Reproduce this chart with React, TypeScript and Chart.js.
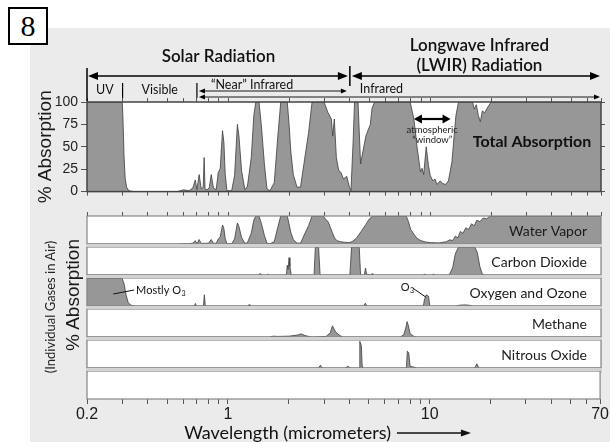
import React, { useEffect, useRef } from 'react';
import { Chart, registerables } from 'chart.js';

Chart.register(...registerables);

// ---------- axis data ----------
const X_MIN = 0.2;
const X_MAX = 70;
const xTicks = [0.2, 0.3, 0.4, 0.5, 0.6, 0.7, 0.8, 0.9, 1, 2, 3, 4, 5, 6, 7, 8, 9, 10, 20, 30, 40, 50, 60, 70];
const xLabeled = [0.2, 1, 10, 70];
const yTicks = [0, 25, 50, 75, 100];

// band boundaries (micrometers)
const UV_EDGE = 0.3;
const VIS_EDGE = 0.7;
const SOLAR_EDGE = 4;
const WINDOW_BAND = [8.3, 12.6];
const O3_PEAK = 9.6;
const O3_UV_LABEL = 0.35;
const O3_UV_POINTER = 0.27;

// ---------- series: [wavelength µm, % absorption] ----------
const totalAbsorption: [number, number][] = [
  [0.2, 100], [0.299, 100], [0.302, 75], [0.305, 40], [0.309, 15], [0.314, 5], [0.322, 1], [0.34, 0],
  [0.56, 0], [0.6, 2], [0.64, 1], [0.668, 4], [0.687, 13], [0.7, 2], [0.718, 19], [0.735, 3],
  [0.752, 5], [0.76, 38], [0.768, 3], [0.785, 2], [0.805, 4], [0.824, 19], [0.845, 4], [0.872, 2],
  [0.892, 21], [0.913, 26], [0.937, 68], [0.952, 55], [0.966, 20], [0.985, 1], [1.04, 1], [1.075, 18],
  [1.11, 75], [1.13, 62], [1.165, 23], [1.21, 2], [1.245, 6], [1.3, 38], [1.34, 86], [1.37, 100],
  [1.42, 100], [1.46, 73], [1.51, 31], [1.555, 3], [1.61, 1], [1.69, 10], [1.76, 62], [1.82, 100],
  [1.96, 100], [2.0, 76], [2.04, 45], [2.1, 19], [2.19, 5], [2.28, 5], [2.37, 31], [2.5, 66],
  [2.6, 100], [2.98, 100], [3.12, 88], [3.24, 81], [3.29, 62], [3.35, 81], [3.43, 38], [3.52, 24],
  [3.62, 21], [3.72, 14], [3.86, 17], [3.97, 6], [4.05, 1], [4.15, 55], [4.22, 100], [4.39, 100],
  [4.52, 31], [4.8, 62], [5.05, 75], [5.15, 93], [5.3, 100], [7.95, 100], [8.3, 81], [8.6, 50],
  [8.94, 22], [9.1, 26], [9.28, 19], [9.55, 50], [9.8, 29], [10.0, 18], [10.3, 12], [10.55, 14],
  [10.8, 8], [11.2, 12], [11.5, 9], [11.9, 8], [12.3, 12], [12.8, 33], [13.1, 60], [13.4, 85],
  [13.8, 100], [16.2, 100], [16.5, 92], [16.9, 97], [17.3, 85], [17.7, 78], [18.1, 90], [18.6, 88],
  [19.0, 92], [20.0, 100], [70, 100],
];

const waterVapor: [number, number][] = [
  [0.2, 0], [0.56, 0], [0.6, 1], [0.64, 1], [0.668, 3], [0.687, 12], [0.7, 1], [0.718, 16], [0.735, 2],
  [0.8, 3], [0.824, 16], [0.845, 3], [0.872, 2], [0.892, 18], [0.913, 25], [0.937, 68], [0.952, 55],
  [0.966, 20], [0.985, 1], [1.04, 1], [1.075, 18], [1.11, 75], [1.13, 62], [1.165, 23], [1.21, 2],
  [1.245, 5], [1.3, 38], [1.34, 86], [1.37, 100], [1.42, 100], [1.46, 73], [1.51, 31], [1.555, 3],
  [1.61, 1], [1.69, 8], [1.76, 60], [1.82, 100], [1.96, 100], [2.0, 72], [2.04, 42], [2.1, 16],
  [2.19, 3], [2.28, 3], [2.37, 30], [2.5, 66], [2.6, 100], [2.95, 100], [3.05, 86], [3.12, 80],
  [3.2, 60], [3.28, 40], [3.36, 22], [3.45, 12], [3.6, 8], [3.8, 6], [3.95, 5], [4.1, 8], [4.3, 20],
  [4.55, 45], [4.8, 70], [5.0, 90], [5.2, 100], [7.6, 100], [7.8, 80], [8.0, 52], [8.3, 35], [8.6, 20],
  [9.0, 12], [9.5, 7], [10.0, 5], [11.0, 4], [12.0, 8], [12.5, 15], [12.9, 12], [13.3, 28], [13.7, 22],
  [14.1, 45], [14.5, 38], [15.0, 58], [15.5, 52], [16.0, 72], [16.5, 65], [17.0, 85], [17.6, 80],
  [18.3, 93], [19.0, 90], [19.8, 100], [70, 100],
];

const carbonDioxide: [number, number][] = [
  [0.2, 0], [1.42, 0], [1.44, 6], [1.46, 0], [1.56, 0], [1.58, 4], [1.6, 0], [1.94, 0], [1.96, 35],
  [1.98, 20], [2.0, 62], [2.02, 30], [2.05, 0], [2.66, 0], [2.7, 100], [2.8, 100], [2.85, 0], [4.0, 0],
  [4.08, 100], [4.45, 100], [4.52, 0], [4.72, 0], [4.78, 25], [4.84, 3], [5.1, 0], [5.15, 5], [5.2, 0],
  [9.2, 0], [9.4, 3], [9.6, 0], [10.2, 0], [10.4, 3], [10.6, 0], [12.4, 0], [12.9, 25], [13.3, 75],
  [13.8, 100], [16.6, 100], [17.1, 80], [17.6, 30], [18.1, 3], [18.6, 0], [70, 0],
];

const oxygenOzone: [number, number][] = [
  [0.2, 100], [0.298, 100], [0.305, 80], [0.312, 40], [0.32, 12], [0.33, 3], [0.345, 0], [0.68, 0],
  [0.688, 9], [0.696, 0], [0.754, 0], [0.762, 40], [0.77, 0], [1.255, 0], [1.268, 5], [1.28, 0],
  [4.68, 0], [4.77, 10], [4.86, 0], [9.25, 0], [9.35, 22], [9.55, 40], [9.8, 35], [9.95, 0],
  [13.3, 0], [14.0, 3], [15.0, 4], [15.8, 2], [16.3, 0], [70, 0],
];

const methane: [number, number][] = [
  [0.2, 0], [1.6, 0], [1.67, 3], [1.75, 2], [2.0, 3], [2.2, 7], [2.3, 11], [2.38, 6], [2.5, 2], [2.6, 0],
  [3.05, 2], [3.2, 15], [3.28, 40], [3.32, 32], [3.4, 18], [3.55, 6], [3.7, 0], [7.1, 0], [7.4, 8],
  [7.6, 38], [7.68, 55], [7.78, 42], [7.95, 12], [8.3, 2], [8.5, 0], [70, 0],
];

const nitrousOxide: [number, number][] = [
  [0.2, 0], [2.8, 0], [2.86, 10], [2.92, 0], [3.82, 0], [3.9, 7], [3.98, 2], [4.05, 0], [4.45, 0],
  [4.48, 95], [4.56, 80], [4.6, 10], [4.65, 0], [7.62, 0], [7.7, 60], [7.82, 55], [7.95, 6], [8.3, 3],
  [8.6, 0], [16.6, 0], [17.0, 15], [17.4, 0], [70, 0],
];

const gasNames = ['Water Vapor', 'Carbon Dioxide', 'Oxygen and Ozone', 'Methane', 'Nitrous Oxide', ''];
const gasSeries: [number, number][][] = [waterVapor, carbonDioxide, oxygenOzone, methane, nitrousOxide, []];

// ---------- styles ----------
const FILL = '#979797';
const EDGE = '#3c3c3c';
const TICK_COLOR = '#555';
const LABEL_FONT = 'Lato, "Open Sans", sans-serif';
const NUM_FONT = '"Liberation Sans", Arial, sans-serif';

const toPoints = (s: [number, number][]) => s.map(([x, y]) => ({ x, y }));

const dataset = (s: [number, number][]) => ({
  data: toPoints(s),
  fill: 'origin',
  backgroundColor: FILL,
  borderColor: EDGE,
  borderWidth: 0.8,
  pointRadius: 0,
  tension: 0,
});

const xScale = (position: string, labeled: boolean) => ({
  type: 'logarithmic',
  position,
  min: X_MIN,
  max: X_MAX,
  afterBuildTicks: (s: any) => {
    s.ticks = xTicks.map((v) => ({ value: v }));
  },
  ticks: labeled
    ? {
        display: true,
        autoSkip: false,
        maxRotation: 0,
        minRotation: 0,
        padding: 1,
        font: { family: NUM_FONT, size: 16 },
        color: '#1a1a1a',
        callback: (v: any) => (xLabeled.includes(Number(v)) ? String(v) : ''),
      }
    : { display: false },
  grid: { drawOnChartArea: false, drawTicks: true, tickLength: labeled ? 5 : 4, color: TICK_COLOR },
  border: { display: false },
  afterFit: (s: any) => {
    s.height = labeled ? 43 : 5;
  },
});

function arrowHead(ctx: CanvasRenderingContext2D, x: number, y: number, dir: number, len: number, half: number) {
  ctx.beginPath();
  ctx.moveTo(x, y);
  ctx.lineTo(x - dir * len, y - half);
  ctx.lineTo(x - dir * len, y + half);
  ctx.closePath();
  ctx.fill();
}

function hArrow(ctx: CanvasRenderingContext2D, x1: number, x2: number, y: number, len: number, half: number, lw: number, both = true) {
  ctx.lineWidth = lw;
  ctx.beginPath();
  ctx.moveTo(x1 + (both ? len * 0.5 : 0), y);
  ctx.lineTo(x2 - len * 0.5, y);
  ctx.stroke();
  arrowHead(ctx, x2, y, 1, len, half);
  if (both) arrowHead(ctx, x1, y, -1, len, half);
}

function vLine(ctx: CanvasRenderingContext2D, x: number, y1: number, y2: number, lw: number) {
  ctx.lineWidth = lw;
  ctx.beginPath();
  ctx.moveTo(x, y1);
  ctx.lineTo(x, y2);
  ctx.stroke();
}

function subText(ctx: CanvasRenderingContext2D, base: string, sub: string, x: number, y: number, size: number) {
  ctx.font = `${size}px ${LABEL_FONT}`;
  ctx.textAlign = 'left';
  ctx.textBaseline = 'middle';
  ctx.fillText(base, x, y);
  const w = ctx.measureText(base).width;
  ctx.font = `${size * 0.65}px ${LABEL_FONT}`;
  ctx.fillText(sub, x + w + 0.5, y + size * 0.3);
}

const frame = (color: string, lw: number) => ({
  id: 'frame',
  beforeDatasetsDraw(chart: any) {
    const { ctx, chartArea: a } = chart;
    ctx.save();
    ctx.fillStyle = '#fff';
    ctx.fillRect(a.left, a.top, a.width, a.height);
    ctx.restore();
  },
  afterDatasetsDraw(chart: any) {
    const { ctx, chartArea: a } = chart;
    ctx.save();
    ctx.strokeStyle = color;
    ctx.lineWidth = lw;
    ctx.strokeRect(a.left, a.top, a.width, a.height);
    ctx.restore();
  },
});

const gasLabel = (name: string) => ({
  id: 'gasLabel',
  afterDraw(chart: any) {
    if (!name) return;
    const { ctx, chartArea: a } = chart;
    ctx.save();
    ctx.font = `14px ${LABEL_FONT}`;
    ctx.fillStyle = '#1a1a1a';
    ctx.textAlign = 'right';
    ctx.textBaseline = 'middle';
    ctx.fillText(name, a.right - 14, a.top + a.height / 2 + 1);
    ctx.restore();
  },
});

const ozoneNotes = {
  id: 'ozoneNotes',
  afterDraw(chart: any) {
    const { ctx, chartArea: a, scales } = chart;
    const px = (v: number) => scales.x.getPixelForValue(v);
    ctx.save();
    ctx.fillStyle = '#111';
    ctx.strokeStyle = '#111';
    const tx = px(O3_UV_LABEL);
    subText(ctx, 'Mostly O', '3', tx, a.top + 12, 11);
    ctx.lineWidth = 1;
    ctx.beginPath();
    ctx.moveTo(px(O3_UV_POINTER), a.top + 16);
    ctx.lineTo(tx - 2, a.top + 12);
    ctx.stroke();
    const ox = px(O3_PEAK);
    subText(ctx, 'O', '3', ox - 26, a.top + 9, 11);
    ctx.beginPath();
    ctx.moveTo(ox - 14, a.top + 10);
    ctx.lineTo(ox - 1, a.top + 19);
    ctx.stroke();
    ctx.restore();
  },
};

const topNotes = {
  id: 'topNotes',
  afterDraw(chart: any) {
    const { ctx, chartArea: a, scales } = chart;
    const px = (v: number) => scales.x.getPixelForValue(v);
    const t = a.top;
    const xL = a.left;
    const xR = a.right;
    const xM = px(SOLAR_EDGE);
    const xUV = px(UV_EDGE);
    const xVis = px(VIS_EDGE);
    ctx.save();
    ctx.strokeStyle = '#000';
    ctx.fillStyle = '#000';

    // headings
    ctx.textAlign = 'center';
    ctx.textBaseline = 'middle';
    ctx.font = `600 17px ${LABEL_FONT}`;
    ctx.fillStyle = '#111';
    ctx.fillText('Solar Radiation', (xL + xM) / 2, t - 45);
    ctx.fillText('Longwave Infrared', (xM + xR) / 2 + 4, t - 56);
    ctx.fillText('(LWIR) Radiation', (xM + xR) / 2 + 4, t - 36);
    ctx.fillStyle = '#000';

    // row 1 arrows
    vLine(ctx, xL, t - 34, t - 1, 1.5);
    vLine(ctx, xM, t - 36, t - 16, 1.5);
    hArrow(ctx, xL + 1, xM - 2, t - 26, 10, 4, 1.4);
    hArrow(ctx, xM + 2, xR - 1, t - 26, 10, 4, 1.4);

    // row 2
    ctx.font = `12.5px ${LABEL_FONT}`;
    ctx.fillStyle = '#111';
    ctx.textAlign = 'center';
    ctx.fillText('UV', (xL + xUV) / 2, t - 12);
    ctx.fillText('Visible', (xUV + xVis) / 2, t - 12);
    ctx.textAlign = 'left';
    ctx.fillText('\u201CNear\u201D Infrared', xVis + 14, t - 17);
    ctx.fillText('Infrared', xM + 10, t - 13);
    ctx.fillStyle = '#000';
    vLine(ctx, xUV, t - 19, t - 4, 1.2);
    vLine(ctx, xVis, t - 19, t - 4, 1.2);
    hArrow(ctx, xVis + 2, xM - 3, t - 11, 6, 2.5, 0.9);
    hArrow(ctx, xVis + 2, xR - 1, t - 5, 6, 2.5, 0.9);

    // atmospheric window
    const w1 = px(WINDOW_BAND[0]);
    const w2 = px(WINDOW_BAND[1]);
    hArrow(ctx, w1, w2, t + 17, 8, 4.5, 2.2);
    ctx.font = `9.5px ${LABEL_FONT}`;
    ctx.fillStyle = '#222';
    ctx.textAlign = 'center';
    ctx.fillText('atmospheric', (w1 + w2) / 2, t + 28);
    ctx.fillText('\u201Cwindow\u201D', (w1 + w2) / 2, t + 38);

    // total absorption label
    ctx.font = `700 16px ${LABEL_FONT}`;
    ctx.fillStyle = '#111';
    ctx.fillText('Total Absorption', xR - 69, t + 40);
    ctx.restore();
  },
};

const axisTitle = {
  id: 'axisTitle',
  afterDraw(chart: any) {
    const { ctx, chartArea: a } = chart;
    const cx = (a.left + a.right) / 2 - 56;
    const y = a.bottom + 34;
    ctx.save();
    ctx.font = `18px ${LABEL_FONT}`;
    ctx.fillStyle = '#111';
    ctx.strokeStyle = '#111';
    ctx.textAlign = 'center';
    ctx.textBaseline = 'middle';
    const text = 'Wavelength (micrometers)';
    ctx.fillText(text, cx, y);
    const w = ctx.measureText(text).width;
    const x0 = cx + w / 2 + 6;
    hArrow(ctx, x0, x0 + 74, y, 10, 3.5, 1.4, false);
    ctx.restore();
  },
};

// ---------- layout of the page ----------
const TOP_CANVAS = { left: 30, top: 28, width: 580, height: 175 };
const GAS_TOPS = [216, 247, 278, 309, 340, 371];
const GAS_H = 28;

export default function App() {
  const topRef = useRef<HTMLCanvasElement | null>(null);
  const gasRefs = useRef<(HTMLCanvasElement | null)[]>([]);

  useEffect(() => {
    const charts: Chart[] = [];
    const yOnlyTicks = () => ({
      afterBuildTicks: (s: any) => {
        s.ticks = yTicks.map((v) => ({ value: v }));
      },
    });

    charts.push(
      new Chart(topRef.current as HTMLCanvasElement, {
        type: 'line',
        data: { datasets: [dataset(totalAbsorption) as any] },
        options: {
          animation: false,
          responsive: false,
          events: [],
          layout: { padding: { left: 0, right: 5, top: 69, bottom: 0 }, autoPadding: false },
          plugins: { legend: { display: false }, tooltip: { enabled: false } },
          scales: {
            x: xScale('top', false) as any,
            x2: xScale('bottom', false) as any,
            y: {
              min: 0,
              max: 100,
              position: 'left',
              ...yOnlyTicks(),
              ticks: { font: { family: NUM_FONT, size: 14 }, color: '#222', padding: 3 },
              grid: { drawOnChartArea: false, tickLength: 6, color: TICK_COLOR },
              border: { display: false },
              title: {
                display: true,
                text: '% Absorption',
                font: { family: NUM_FONT, size: 19 },
                color: '#1a1a1a',
                padding: { top: 4, bottom: 0 },
              },
              afterFit: (s: any) => {
                s.width = 57;
              },
            } as any,
            y2: {
              min: 0,
              max: 100,
              position: 'right',
              ...yOnlyTicks(),
              ticks: { display: false },
              grid: { drawOnChartArea: false, tickLength: 4, color: TICK_COLOR },
              border: { display: false },
              afterFit: (s: any) => {
                s.width = 4;
              },
            } as any,
          },
        },
        plugins: [frame('#444', 1.5), topNotes],
      })
    );

    gasSeries.forEach((series, i) => {
      const last = i === gasSeries.length - 1;
      const xOpts =
        i === 0 ? xScale('top', false) : last ? xScale('bottom', true) : { type: 'logarithmic', min: X_MIN, max: X_MAX, display: false };
      const plugins: any[] = [frame('#858585', 1.2), gasLabel(gasNames[i])];
      if (i === 2) plugins.push(ozoneNotes);
      if (last) plugins.push(axisTitle);
      charts.push(
        new Chart(gasRefs.current[i] as HTMLCanvasElement, {
          type: 'line',
          data: { datasets: series.length ? [dataset(series) as any] : [] },
          options: {
            animation: false,
            responsive: false,
            events: [],
            layout: { padding: { left: 57, right: 9, top: 0, bottom: 0 }, autoPadding: false },
            plugins: { legend: { display: false }, tooltip: { enabled: false } },
            scales: {
              x: xOpts as any,
              y: { min: 0, max: 100, display: false },
            },
          },
          plugins,
        })
      );
    });

    return () => charts.forEach((c) => c.destroy());
  }, []);

  const abs = (l: number, t: number, w: number, h: number): React.CSSProperties => ({
    position: 'absolute',
    left: l,
    top: t,
    width: w,
    height: h,
  });

  const rotated = (cx: number, cy: number): React.CSSProperties => ({
    position: 'absolute',
    left: cx,
    top: cy,
    transform: 'translate(-50%, -50%) rotate(-90deg)',
    whiteSpace: 'nowrap',
    lineHeight: 1,
  });

  return (
    <div style={{ position: 'absolute', left: 0, top: 0, width: 610, height: 442, overflow: 'hidden', background: '#fff' }}>
      <div style={{ ...abs(30, 28, 580, 414), background: '#ebebeb' }} />
      <div style={{ ...abs(86, 243, 516, 130), background: '#d2d2d2' }} />
      <canvas
        ref={topRef}
        width={TOP_CANVAS.width}
        height={TOP_CANVAS.height}
        style={abs(TOP_CANVAS.left, TOP_CANVAS.top, TOP_CANVAS.width, TOP_CANVAS.height)}
      />
      {gasSeries.map((_, i) => {
        const last = i === gasSeries.length - 1;
        const top = i === 0 ? GAS_TOPS[i] - 5 : GAS_TOPS[i];
        const h = i === 0 ? GAS_H + 5 : last ? GAS_H + 43 : GAS_H;
        return (
          <canvas
            key={i}
            ref={(el) => {
              gasRefs.current[i] = el;
            }}
            width={580}
            height={h}
            style={abs(30, top, 580, h)}
          />
        );
      })}
      <div style={{ ...rotated(50, 307), fontFamily: LABEL_FONT, fontSize: 13, color: '#222' }}>
        (Individual Gases in Air)
      </div>
      <div style={{ ...rotated(72, 295), fontFamily: NUM_FONT, fontSize: 19, color: '#1a1a1a' }}>% Absorption</div>
      <div
        style={{
          ...abs(8, 7, 36, 34),
          border: '2px solid #000',
          background: '#fff',
          fontFamily: '"Liberation Serif", "DejaVu Serif", serif',
          fontSize: 30,
          display: 'flex',
          alignItems: 'center',
          justifyContent: 'center',
          color: '#000',
          zIndex: 2,
        }}
      >
        8
      </div>
    </div>
  );
}
